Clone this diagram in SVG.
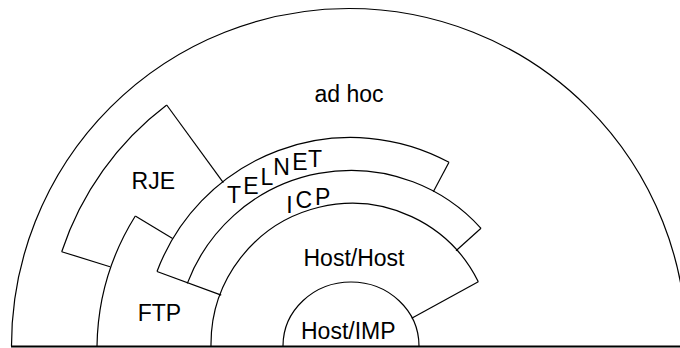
<svg xmlns="http://www.w3.org/2000/svg" width="680" height="348" viewBox="0 0 680 348">
<style>
.b{fill:none;stroke:#000;stroke-width:1.2;stroke-linejoin:round}
.t{font-family:"Liberation Sans",Arial,sans-serif;font-size:23px;fill:#000}
.m{text-anchor:middle}
</style>
<rect width="680" height="348" fill="#fff"/>
<g id="adhoc">
<path class="b" d="M 11.5 346 A 337.5 337.5 0 0 1 686.5 346"/>
<text class="t m" x="349" y="102">ad hoc</text>
</g>
<g id="rje">
<path class="b" d="M 61.7 251.7 A 303 303 0 0 1 166.7 105"/>
<text class="t m" x="153.3" y="189.3">RJE</text>
</g>
<g id="ftp">
<path class="b" d="M 97 346 A 253 253 0 0 1 135.3 216"/>
<text class="t m" x="159.5" y="321">FTP</text>
</g>
<g id="telnet">
<path class="b" d="M 157 271.5 A 207 207 0 0 1 449 162.3"/>
<text class="t" x="227" y="202.7">T</text>
<text class="t" x="243.2" y="194">E</text>
<text class="t" x="260.6" y="185">L</text>
<text class="t" x="273.3" y="175">N</text>
<text class="t" x="292.2" y="170">E</text>
<text class="t" x="308" y="167.3">T</text>
</g>
<g id="icp">
<path class="b" d="M 187.3 283.4 A 175 175 0 0 1 481 228.3"/>
<text class="t" x="286.2" y="212.7">I</text>
<text class="t" x="295.6" y="208.3">C</text>
<text class="t" x="314.9" y="205">P</text>
</g>
<g id="hosthost">
<path class="b" d="M 211 346 A 141 141 0 0 1 478.3 281.7"/>
<text class="t m" x="354" y="266">Host/Host</text>
</g>
<g id="hostimp">
<path class="b" d="M 283 346 A 68 64 0 0 1 419 346"/>
<text class="t m" x="348.3" y="338.7">Host/IMP</text>
</g>
<g id="connectors">
<path class="b" d="M 166.7 105 L 223.3 182.7"/>
<path class="b" d="M 61.7 251.7 L 110 266.7"/>
<path class="b" d="M 135.3 216 L 172.6 238.5"/>
<path class="b" d="M 157 271.5 L 221.2 295.1"/>
<path class="b" d="M 449 162.3 L 433.3 191.7"/>
<path class="b" d="M 481 228.3 L 456 250.7"/>
<path class="b" d="M 478.3 281.7 L 411.7 318.3"/>
<path fill="none" stroke="#000" stroke-width="2" d="M 11 346.5 L 680 346.5"/>
</g>
</svg>
